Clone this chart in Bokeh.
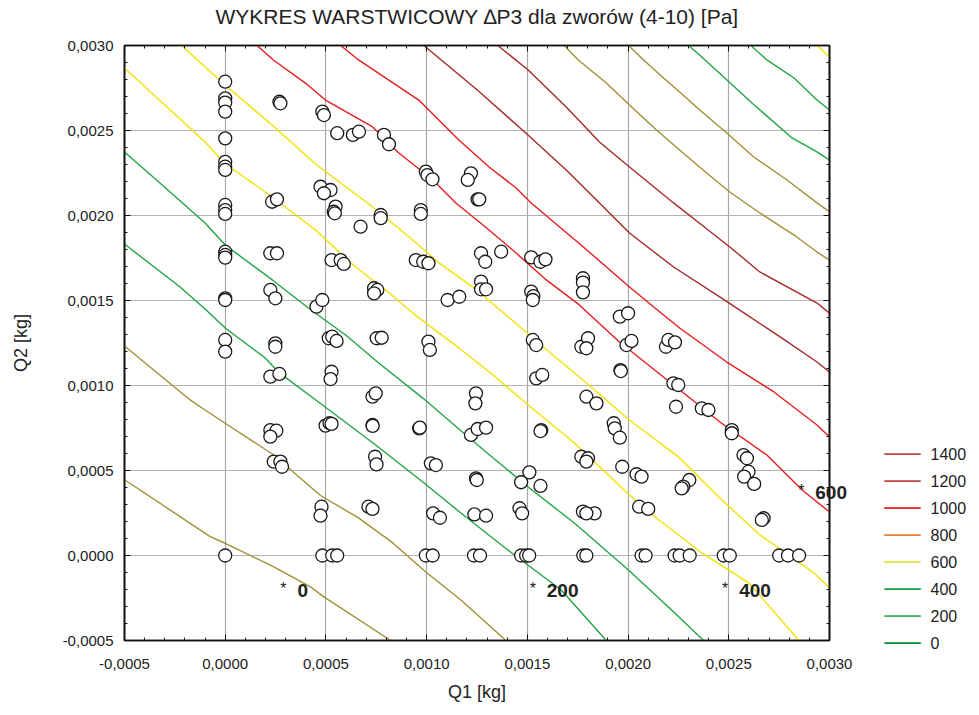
from bokeh.plotting import figure
from bokeh.models import (Range1d, FixedTicker, CustomJSTickFormatter, LinearAxis, Grid, Label)
from bokeh.embed import file_html
from bokeh.resources import INLINE

# ---------------- data (values in thousandths of kg) ----------------
# contour lines, from lower-left to upper-right
c01_q1 = [-0.5, -0.473, -0.075, 0.0, 0.239, 0.423, 0.488, 0.822]
c01_q2 = [0.444, 0.425, 0.111, 0.072, -0.065, -0.184, -0.242, -0.5]
c02_q1 = [-0.5, -0.174, -0.100, 0.0, 0.234, 0.473, 0.662, 0.832, 0.996, 1.170, 1.394]
c02_q2 = [1.232, 0.915, 0.856, 0.778, 0.597, 0.353, 0.221, 0.074, -0.097, -0.262, -0.5]
c03_q1 = [-0.5, -0.224, -0.100, 0.0, 0.199, 0.264, 0.483, 0.747, 0.981, 1.170, 1.384, 1.668, 1.892]
c03_q2 = [1.832, 1.579, 1.450, 1.338, 1.162, 1.079, 0.885, 0.650, 0.432, 0.250, 0.050, -0.203, -0.5]
c04_q1 = [-0.5, -0.324, -0.100, 0.0, 0.234, 0.413, 0.598, 0.762, 0.981, 1.195, 1.330, 1.504, 1.733, 2.002, 2.216, 2.375]
c04_q2 = [2.374, 2.191, 1.956, 1.826, 1.621, 1.456, 1.297, 1.132, 0.926, 0.709, 0.574, 0.403, 0.191, -0.085, -0.321, -0.5]
c05_q1 = [-0.5, -0.100, -0.005, 0.234, 0.448, 0.647, 0.797, 0.931, 1.160, 1.330, 1.504, 1.728, 2.007, 2.141, 2.366, 2.600, 2.849]
c05_q2 = [2.868, 2.432, 2.309, 2.109, 1.915, 1.697, 1.562, 1.426, 1.221, 1.062, 0.885, 0.668, 0.356, 0.221, 0.015, -0.162, -0.5]
c06_q1 = [-0.216, -0.100, 0.0, 0.244, 0.448, 0.732, 0.931, 1.061, 1.230, 1.394, 1.579, 1.793, 2.007, 2.256, 2.456, 2.654, 2.923, 3.0]
c06_q2 = [3.0, 2.874, 2.768, 2.521, 2.303, 2.050, 1.856, 1.721, 1.579, 1.415, 1.226, 1.015, 0.797, 0.574, 0.338, 0.121, -0.103, -0.191]
c07_q1 = [0.158, 0.239, 0.398, 0.498, 0.732, 0.862, 1.031, 1.145, 1.310, 1.444, 1.594, 1.758, 1.957, 2.226, 2.456, 2.689, 2.864, 3.0]
c07_q2 = [3.0, 2.915, 2.779, 2.679, 2.521, 2.368, 2.209, 2.074, 1.915, 1.779, 1.621, 1.474, 1.256, 1.003, 0.785, 0.591, 0.385, 0.256]
c08_q1 = [0.573, 0.662, 0.961, 1.160, 1.310, 1.444, 1.519, 1.778, 2.007, 2.176, 2.256, 2.490, 2.724, 2.938, 3.0]
c08_q2 = [3.0, 2.915, 2.679, 2.444, 2.285, 2.162, 2.074, 1.815, 1.579, 1.415, 1.338, 1.138, 0.962, 0.768, 0.697]
c09_q1 = [0.986, 1.250, 1.503, 1.693, 1.858, 2.007, 2.226, 2.455, 2.590, 2.764, 2.938, 3.0]
c09_q2 = [3.0, 2.740, 2.474, 2.268, 2.074, 1.897, 1.697, 1.521, 1.415, 1.279, 1.138, 1.079]
c10_q1 = [1.353, 1.504, 1.693, 1.858, 2.007, 2.226, 2.366, 2.505, 2.654, 2.938, 3.0]
c10_q2 = [3.0, 2.856, 2.638, 2.432, 2.285, 2.074, 1.944, 1.815, 1.668, 1.485, 1.426]
c11_q1 = [1.683, 1.753, 1.892, 2.007, 2.141, 2.256, 2.390, 2.505, 2.654, 2.824, 2.938, 3.0]
c11_q2 = [3.0, 2.915, 2.779, 2.650, 2.503, 2.385, 2.250, 2.138, 2.015, 1.885, 1.785, 1.738]
c12_q1 = [2.002, 2.077, 2.176, 2.256, 2.356, 2.490, 2.624, 2.789, 2.938, 3.0]
c12_q2 = [3.0, 2.915, 2.809, 2.726, 2.621, 2.485, 2.344, 2.209, 2.074, 2.021]
c13_q1 = [2.301, 2.366, 2.480, 2.615, 2.814, 2.938, 3.0]
c13_q2 = [3.0, 2.932, 2.809, 2.662, 2.456, 2.374, 2.326]
c14_q1 = [2.610, 2.689, 2.824, 2.938, 3.0]
c14_q2 = [3.0, 2.915, 2.809, 2.679, 2.621]
c15_q1 = [2.938, 3.0]
c15_q2 = [3.0, 2.932]

OLIVE, GREEN, YELLOW, RED, DARKRED = "#a09035", "#22a544", "#f2e200", "#e81c1c", "#a8282a"
contour_colors = [OLIVE, OLIVE, GREEN, GREEN, YELLOW, YELLOW, RED, RED,
                  DARKRED, DARKRED, OLIVE, OLIVE, GREEN, GREEN, YELLOW]

# measured points (Q1, Q2), thousandths of kg
points_col0 = [(0, 2.787), (0, 2.689), (0, 2.664), (0, 2.611), (0, 2.454), (0, 2.316), (0, 2.287),
               (0, 2.268), (0, 2.062), (0, 2.032), (0, 2.009), (0, 1.787), (0, 1.768), (0, 1.752),
               (0, 1.513), (0, 1.503), (0, 1.268), (0, 1.199)]
points_row0 = [(0, 0), (0.482, 0), (0.531, 0), (0.556, 0), (0.996, 0), (1.030, 0), (1.235, 0),
               (1.265, 0), (1.469, 0), (1.494, 0), (1.509, 0), (1.778, 0), (1.793, 0), (2.067, 0),
               (2.087, 0), (2.231, 0), (2.256, 0), (2.306, 0), (2.475, 0), (2.505, 0), (2.750, 0),
               (2.794, 0), (2.849, 0)]
points_upper = [(0.269, 2.669), (0.274, 2.660), (0.482, 2.611), (0.490, 2.591), (0.556, 2.484),
                (0.634, 2.474), (0.664, 2.493), (0.788, 2.474), (0.813, 2.419), (0.996, 2.258),
                (1.004, 2.238), (1.029, 2.213), (1.220, 2.248), (1.204, 2.209), (1.253, 2.095),
                (1.261, 2.095), (0.473, 2.169), (0.523, 2.150), (0.490, 2.131), (0.233, 2.081),
                (0.257, 2.095), (0.548, 2.052), (0.539, 2.022), (0.544, 2.013), (0.672, 1.934),
                (0.772, 2.003), (0.772, 1.984), (0.971, 2.032), (0.971, 2.009), (0.224, 1.778),
                (0.257, 1.778), (0.528, 1.738), (0.573, 1.738), (0.589, 1.715), (0.946, 1.738),
                (0.983, 1.728), (1.009, 1.719), (1.270, 1.778), (1.291, 1.728), (1.370, 1.787),
                (0.224, 1.562), (0.249, 1.513), (0.453, 1.464), (0.482, 1.503), (0.739, 1.572),
                (0.755, 1.562), (0.739, 1.542), (1.104, 1.503), (1.162, 1.522), (1.270, 1.611),
                (1.270, 1.566), (1.295, 1.566), (1.519, 1.754), (1.565, 1.728), (1.590, 1.742),
                (1.776, 1.631), (1.776, 1.605), (1.776, 1.548), (1.519, 1.552), (1.530, 1.526),
                (1.527, 1.503), (1.959, 1.405), (2.000, 1.425)]
points_middle = [(0.249, 1.248), (0.249, 1.228), (0.514, 1.278), (0.531, 1.287), (0.553, 1.262),
                 (0.752, 1.278), (0.777, 1.281), (1.009, 1.258), (1.016, 1.209), (0.224, 1.052),
                 (0.269, 1.068), (0.528, 1.081), (0.523, 1.038), (0.731, 0.934), (0.747, 0.954),
                 (1.245, 0.954), (1.242, 0.895), (0.224, 0.738), (0.254, 0.734), (0.224, 0.699),
                 (0.498, 0.764), (0.518, 0.778), (0.528, 0.774), (0.731, 0.768), (0.732, 0.762),
                 (0.963, 0.748), (0.966, 0.752), (1.220, 0.709), (1.253, 0.744), (1.295, 0.752),
                 (0.241, 0.552), (0.274, 0.552), (0.282, 0.522), (0.744, 0.581), (0.751, 0.536),
                 (1.021, 0.542), (1.046, 0.532), (1.245, 0.454), (1.249, 0.444), (0.478, 0.287),
                 (0.473, 0.234), (0.711, 0.287), (0.731, 0.274), (1.032, 0.248), (1.066, 0.222),
                 (1.237, 0.242), (1.295, 0.234)]
points_right = [(1.527, 1.268), (1.544, 1.238), (1.768, 1.228), (1.801, 1.278), (1.793, 1.219),
                (1.992, 1.238), (2.017, 1.262), (2.188, 1.228), (2.200, 1.268), (2.233, 1.254),
                (1.544, 1.042), (1.574, 1.062), (1.962, 1.091), (1.964, 1.085), (2.225, 1.013),
                (2.249, 1.003), (2.238, 0.875), (2.366, 0.866), (2.399, 0.856), (1.793, 0.934),
                (1.843, 0.895), (1.929, 0.778), (1.934, 0.748), (1.959, 0.693), (1.569, 0.738),
                (1.565, 0.732), (2.515, 0.738), (2.515, 0.719), (2.573, 0.591), (2.590, 0.572),
                (2.598, 0.493), (2.576, 0.464), (2.626, 0.421), (1.768, 0.581), (1.801, 0.572),
                (1.793, 0.552), (1.971, 0.522), (2.042, 0.478), (2.067, 0.464), (1.510, 0.489),
                (1.469, 0.431), (1.565, 0.409), (2.304, 0.444), (2.274, 0.405), (2.266, 0.395),
                (2.673, 0.219), (2.664, 0.209), (1.776, 0.258), (1.834, 0.248), (1.793, 0.248),
                (2.055, 0.287), (2.100, 0.274), (1.461, 0.278), (1.474, 0.248)]

# contour value labels (the last one runs past the right frame edge)
label_q1 = [0.289, 1.527, 2.482, 2.860]
label_q2 = [-0.203, -0.203, -0.203, 0.368]
label_text = ["0", "200", "400", "600"]

# legend
legend_values = ["1400", "1200", "1000", "800", "600", "400", "200", "0"]
legend_colors = ["#c0504d", "#c8494a", "#e3262b", "#e8823a", "#e6e337", "#1d9f48", "#3db35e", "#0f8a3c"]

tick_values = [-0.5, 0.0, 0.5, 1.0, 1.5, 2.0, 2.5, 3.0]

TITLE = "WYKRES WARSTWICOWY \u2206P3 dla zworów (4-10) [Pa]"
FONT = "Liberation Sans"

# ---------------- layout constants ----------------
K = 1e-3
X0, X1, Y0, Y1 = -0.5 * K, 3.0 * K, -0.5 * K, 3.0 * K
FW, FH = 705, 595
DX_PER_PX = (X1 - X0) / FW
DY_PER_PX = (Y1 - Y0) / FH
TITLE_DY = 29          # px above the frame top: title centre
LEG_LINE_DX = 73       # px right of frame: centre of legend line
LEG_TEXT_DX = 101      # px right of frame: left edge of legend text
LEG_TOP_DY = 187       # px above frame bottom: first legend row
LEG_STEP = 27          # px between legend rows

# ---------------- figure ----------------
p = figure(frame_width=FW, frame_height=FH, width=979, height=715,
           min_border_left=124, min_border_right=150, min_border_top=45, min_border_bottom=75,
           x_range=Range1d(X0, X1), y_range=Range1d(Y0, Y1),
           output_backend="svg", toolbar_location=None, x_axis_type=None, y_axis_type=None)
p.background_fill_color = "white"
p.border_fill_color = "white"
p.outline_line_color = "#111111"
p.outline_line_width = 1.6

major = [v * K for v in tick_values]
minor = [(-0.5 + 0.1 * i) * K for i in range(36)]
fmt = CustomJSTickFormatter(code="""
    if (Math.abs(tick) < 1e-12) { return "0,0000"; }
    return tick.toFixed(4).replace('.', ',');
""")
blank_fmt = CustomJSTickFormatter(code="return '';")

def make_axis(show_labels):
    ax = LinearAxis(ticker=FixedTicker(ticks=major, minor_ticks=minor),
                    formatter=fmt if show_labels else blank_fmt)
    ax.major_tick_in = 6
    ax.major_tick_out = 0
    ax.minor_tick_in = 3
    ax.minor_tick_out = 0
    ax.axis_line_color = "#111111"
    ax.axis_line_width = 1.6
    ax.major_tick_line_color = "#111111"
    ax.minor_tick_line_color = "#111111"
    ax.major_label_text_font = FONT
    ax.major_label_text_font_size = "15px"
    ax.major_label_text_color = "#222222"
    ax.axis_label_text_font = FONT
    ax.axis_label_text_font_size = "18px"
    ax.axis_label_text_font_style = "normal"
    ax.axis_label_text_color = "#222222"
    if not show_labels:
        ax.major_label_standoff = 0
    return ax

xb = make_axis(True)
xb.axis_label = "Q1 [kg]"
xb.major_label_standoff = 18
xb.axis_label_standoff = 10
yl = make_axis(True)
yl.axis_label = "Q2 [kg]"
yl.major_label_standoff = 11
yl.axis_label_standoff = 29
p.add_layout(xb, "below")
p.add_layout(yl, "left")
p.add_layout(make_axis(False), "above")
p.add_layout(make_axis(False), "right")

p.xgrid.visible = False
p.ygrid.visible = False
p.add_layout(Grid(dimension=0, ticker=FixedTicker(ticks=major), grid_line_color="#a8a8a8", grid_line_width=1.2))
p.add_layout(Grid(dimension=1, ticker=FixedTicker(ticks=major), grid_line_color="#b4b4b4", grid_line_width=1.2))

# title, centred over the frame (drawn in the top side panel)
p.add_layout(Label(x=(X0 + X1) / 2, y=Y1 + TITLE_DY * DY_PER_PX, text=TITLE,
                   text_font=FONT, text_font_size="21px", text_color="#222222",
                   text_align="center", text_baseline="middle"), "above")

# contour lines
contours = [(c01_q1, c01_q2), (c02_q1, c02_q2), (c03_q1, c03_q2), (c04_q1, c04_q2),
            (c05_q1, c05_q2), (c06_q1, c06_q2), (c07_q1, c07_q2), (c08_q1, c08_q2),
            (c09_q1, c09_q2), (c10_q1, c10_q2), (c11_q1, c11_q2), (c12_q1, c12_q2),
            (c13_q1, c13_q2), (c14_q1, c14_q2), (c15_q1, c15_q2)]
for (xs, ys), col in zip(contours, contour_colors):
    p.line([v * K for v in xs], [v * K for v in ys], line_color=col, line_width=1.4)

# points
all_pts = points_col0 + points_row0 + points_upper + points_middle + points_right
p.scatter([a * K for a, b in all_pts], [b * K for a, b in all_pts], marker="circle", size=13,
          fill_color="white", line_color="#1a1a1a", line_width=1.3)

# contour value labels: stars inside the frame; numbers next to them
for x, y, t in zip(label_q1, label_q2, label_text):
    p.add_layout(Label(x=x * K, y=y * K, text="*", text_font=FONT, text_font_size="16px",
                       text_align="center", text_baseline="middle", text_color="#222222",
                       y_offset=2))
    num = Label(x=x * K, y=y * K, text=t, text_font=FONT, text_font_size="19px",
                text_font_style="bold", text_align="left", text_baseline="middle",
                x_offset=14, text_color="#222222")
    # the number that runs past the frame edge is drawn from the side panel (not clipped)
    p.add_layout(num, "right" if t == "600" else "center")

# legend, drawn in the right-hand side panel
for i, (val, col) in enumerate(zip(legend_values, legend_colors)):
    yq = Y0 + (LEG_TOP_DY - i * LEG_STEP) * DY_PER_PX
    p.add_layout(Label(x=X1 + LEG_LINE_DX * DX_PER_PX, y=yq, text="\u2500\u2500\u2500",
                       text_font="DejaVu Sans", text_font_size="20px", text_color=col,
                       text_align="center", text_baseline="middle"), "right")
    p.add_layout(Label(x=X1 + LEG_TEXT_DX * DX_PER_PX, y=yq, text=val,
                       text_font=FONT, text_font_size="16px", text_color="#222222",
                       text_align="left", text_baseline="middle"), "right")

open("out.html", "w").write(file_html(p, INLINE))
